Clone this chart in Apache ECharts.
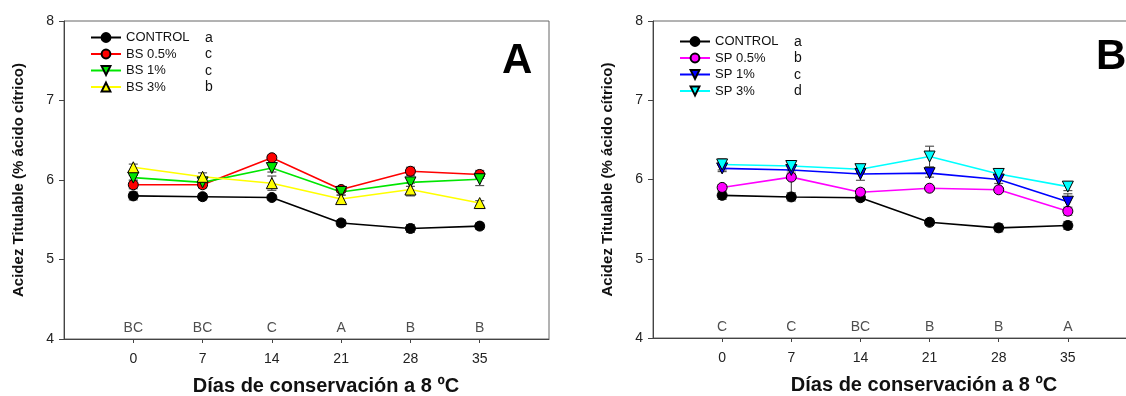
<!DOCTYPE html>
<html>
<head>
<meta charset="utf-8">
<script src="https://cdn.jsdelivr.net/npm/echarts@6/dist/echarts.min.js"></script>
<style>
  html, body { margin: 0; padding: 0; background: #fff; }
  #chart { width: 1126px; height: 396px; }
</style>
</head>
<body>
<div id="chart"></div>
<script>
// days of storage at 8 ºC
const days = [0, 7, 14, 21, 28, 35]

// panel A (BS)
const controlA = [5.8, 5.79, 5.78, 5.46, 5.39, 5.42]
const controlAErr = [0.05, 0.04, 0.03, 0.04, 0.05, 0.04]
const bs05 = [5.94, 5.94, 6.28, 5.88, 6.11, 6.07]
const bs05Err = [0.05, 0.04, 0.03, 0.03, 0.05, 0.05]
const bs1 = [6.03, 5.97, 6.15, 5.85, 5.97, 6.01]
const bs1Err = [0.03, 0.04, 0.05, 0.04, 0.05, 0.08]
const bs3 = [6.16, 6.04, 5.96, 5.76, 5.88, 5.71]
const bs3Err = [0.04, 0.05, 0.09, 0.05, 0.08, 0.03]
const sigA = ['BC', 'BC', 'C', 'A', 'B', 'B']
const legendA = { 'CONTROL': 'a', 'BS 0.5%': 'c', 'BS 1%': 'c', 'BS 3%': 'b' }

// panel B (SP)
const controlB = [5.8, 5.78, 5.77, 5.46, 5.39, 5.42]
const controlBErr = [0.05, 0.05, 0.04, 0.04, 0.05, 0.05]
const sp05 = [5.9, 6.03, 5.84, 5.89, 5.87, 5.6]
const sp05Err = [0.03, 0.2, 0.04, 0.03, 0.03, 0.05]
const sp1 = [6.14, 6.12, 6.07, 6.08, 6.0, 5.72]
const sp1Err = [0.04, 0.04, 0.08, 0.05, 0.05, 0.1]
const sp3 = [6.19, 6.17, 6.13, 6.29, 6.07, 5.91]
const sp3Err = [0.07, 0.06, 0.04, 0.13, 0.04, 0.05]
const sigB = ['C', 'C', 'BC', 'B', 'B', 'A']
const legendB = { 'CONTROL': 'a', 'SP 0.5%': 'b', 'SP 1%': 'c', 'SP 3%': 'd' }

const sigY = 4.14

const chart = echarts.init(document.getElementById('chart'))

const font = 'Liberation Sans, Arial, sans-serif'

function lineSeries(name, values, color, symbol, idx) {
  return {
    name,
    type: 'line',
    xAxisIndex: idx,
    yAxisIndex: idx,
    data: days.map((d, i) => [d, values[i]]),
    symbol: symbol === 'down' || symbol === 'up' ? 'triangle' : 'circle',
    symbolRotate: symbol === 'down' ? 180 : 0,
    symbolSize: symbol === 'circle' ? 10 : 11,
    color,
    lineStyle: { color, width: 1.6 },
    itemStyle: { color, borderColor: '#000', borderWidth: 1 },
    z: 3,
    animation: false,
  }
}

function errorSeries(values, errs, idx) {
  return {
    type: 'custom',
    xAxisIndex: idx,
    yAxisIndex: idx,
    silent: true,
    z: 2,
    data: days.map((d, i) => [d, values[i] - errs[i], values[i] + errs[i]]),
    renderItem: (params, api) => {
      const lo = api.coord([api.value(0), api.value(1)])
      const hi = api.coord([api.value(0), api.value(2)])
      const w = 4.5
      const style = { stroke: '#333', lineWidth: 1 }
      const cap = { stroke: '#555', lineWidth: 1.2 }
      return {
        type: 'group',
        children: [
          { type: 'line', shape: { x1: lo[0], y1: lo[1], x2: hi[0], y2: hi[1] }, style },
          { type: 'line', shape: { x1: lo[0] - w, y1: lo[1], x2: lo[0] + w, y2: lo[1] }, style: cap },
          { type: 'line', shape: { x1: hi[0] - w, y1: hi[1], x2: hi[0] + w, y2: hi[1] }, style: cap },
        ],
      }
    },
    animation: false,
  }
}

function sigSeries(letters, idx) {
  return {
    type: 'scatter',
    xAxisIndex: idx,
    yAxisIndex: idx,
    silent: true,
    symbolSize: 0,
    data: days.map((d) => [d, sigY]),
    label: {
      show: true,
      position: 'inside',
      formatter: (p) => letters[p.dataIndex],
      color: '#222',
      fontSize: 14,
      fontFamily: font,
    },
    animation: false,
  }
}

function xAxis(idx, namePad) {
  return {
    gridIndex: idx,
    type: 'value',
    min: -7,
    max: 42,
    interval: 7,
    name: 'Días de conservación a 8 ºC',
    nameLocation: 'middle',
    nameGap: 37,
    nameTextStyle: { fontSize: 20, fontWeight: 'bold', color: '#111', fontFamily: font, padding: [0, 0, 0, namePad] },
    axisLine: { onZero: false, lineStyle: { color: '#444', width: 1 } },
    axisTick: { customValues: days, length: 4, lineStyle: { color: '#444' } },
    axisLabel: { customValues: days, fontSize: 14, color: '#222', margin: 13, fontFamily: font },
    splitLine: { show: false },
  }
}

function yAxis(idx) {
  return {
    gridIndex: idx,
    type: 'value',
    min: 4,
    max: 8,
    interval: 1,
    name: 'Acidez Titulable (% ácido cítrico)',
    nameLocation: 'middle',
    nameGap: 38,
    nameTextStyle: { fontSize: 15, fontWeight: 'bold', color: '#111', fontFamily: font },
    axisLine: { onZero: false, lineStyle: { color: '#444', width: 1 } },
    axisTick: { length: 5, lineStyle: { color: '#444' } },
    axisLabel: { fontSize: 14, color: '#222', margin: 10, fontFamily: font },
    splitLine: { show: false },
  }
}

function legend(idx, names, letters, left, top) {
  return {
    orient: 'vertical',
    left,
    top,
    data: names,
    itemWidth: 30,
    itemHeight: 11,
    itemGap: 1.5,
    selectedMode: false,
    formatter: (name) => '{n|' + name + '}{l|' + letters[name] + '}',
    textStyle: {
      fontSize: 13,
      lineHeight: 15,
      color: '#111',
      fontFamily: font,
      rich: {
        n: { width: 79, fontSize: 13, lineHeight: 15, fontFamily: font },
        l: { fontSize: 14, lineHeight: 15, fontFamily: font, verticalAlign: 'bottom' },
      },
    },
  }
}

const option = {
  backgroundColor: '#fff',
  animation: false,
  grid: [
    { left: 64, right: 577, top: 21, bottom: 57, outerBoundsMode: 'none', containLabel: false, show: true, borderColor: '#666', borderWidth: 1 },
    { left: 653, right: -11, top: 21, bottom: 58, outerBoundsMode: 'none', containLabel: false, show: true, borderColor: '#666', borderWidth: 1 },
  ],
  xAxis: [xAxis(0, 39), xAxis(1, 58)],
  yAxis: [yAxis(0), yAxis(1)],
  legend: [
    legend(0, ['CONTROL', 'BS 0.5%', 'BS 1%', 'BS 3%'], legendA, 85, 25),
    legend(1, ['CONTROL', 'SP 0.5%', 'SP 1%', 'SP 3%'], legendB, 674, 29),
  ],
  graphic: [
    { type: 'text', left: 502, top: 40, style: { text: 'A', fontSize: 42, fontWeight: 'bold', fill: '#000', fontFamily: font } },
    { type: 'text', left: 1096, top: 36, style: { text: 'B', fontSize: 42, fontWeight: 'bold', fill: '#000', fontFamily: font } },
  ],
  series: [
    errorSeries(controlA, controlAErr, 0),
    errorSeries(bs05, bs05Err, 0),
    errorSeries(bs1, bs1Err, 0),
    errorSeries(bs3, bs3Err, 0),
    lineSeries('CONTROL', controlA, '#000000', 'circle', 0),
    lineSeries('BS 0.5%', bs05, '#ff0000', 'circle', 0),
    lineSeries('BS 1%', bs1, '#00e600', 'down', 0),
    lineSeries('BS 3%', bs3, '#ffff00', 'up', 0),
    sigSeries(sigA, 0),

    errorSeries(controlB, controlBErr, 1),
    errorSeries(sp05, sp05Err, 1),
    errorSeries(sp1, sp1Err, 1),
    errorSeries(sp3, sp3Err, 1),
    lineSeries('CONTROL', controlB, '#000000', 'circle', 1),
    lineSeries('SP 0.5%', sp05, '#ff00ff', 'circle', 1),
    lineSeries('SP 1%', sp1, '#0000ff', 'down', 1),
    lineSeries('SP 3%', sp3, '#00ffff', 'down', 1),
    sigSeries(sigB, 1),
  ],
}

chart.setOption(option)
</script>
</body>
</html>
